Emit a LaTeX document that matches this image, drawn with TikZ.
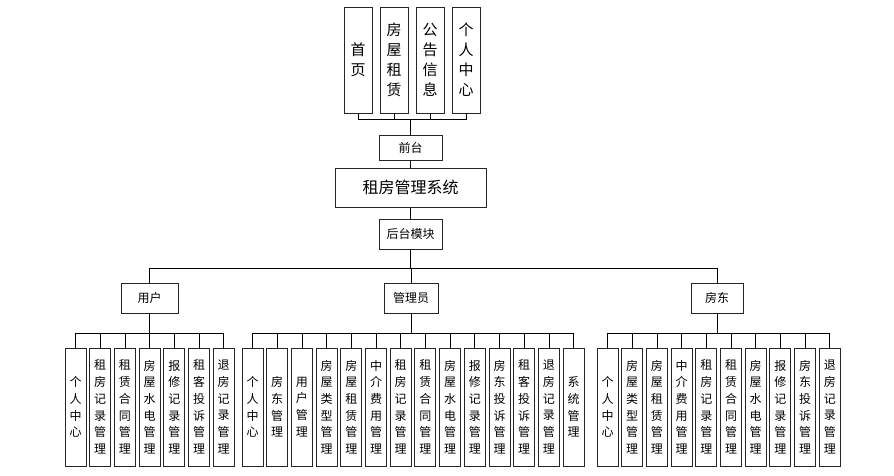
\documentclass[tikz,border=0pt]{standalone}
\usepackage{fontspec}
\setmainfont{Noto Sans CJK SC}
\usetikzlibrary{positioning}

\begin{document}
\begin{tikzpicture}[x=1pt, y=-1pt, node distance=2.7pt, line width=0.8pt,
    boxline/.style={draw=black!85, line width=1pt, inner sep=0pt, align=center},
    topbox/.style={boxline, minimum width=28pt, minimum height=106pt,
          font=\fontsize{15}{20}\selectfont},
    midbox/.style={boxline, minimum height=30pt, font=\fontsize{12}{14}\selectfont},
    leaf/.style={boxline, minimum width=21pt, minimum height=118pt,
          font=\fontsize{12}{16.7}\selectfont}]
  \useasboundingbox (0,0) rectangle (894,475);

  % front end
  \node[topbox] (t1) at (358,60) {首\\页};
  \node[topbox, right=7pt of t1] (t2) {房\\屋\\租\\赁};
  \node[topbox, right=7pt of t2] (t3) {公\\告\\信\\息};
  \node[topbox, right=7pt of t3] (t4) {个\\人\\中\\心};
  \node[midbox, minimum width=63pt, minimum height=25pt] (f) at (410.5,147.5) {前台};
  \node[boxline, minimum width=151pt, minimum height=39pt,
        font=\fontsize{16}{20}\selectfont] (m) at (410.5,187.5) {租房管理系统};
  \node[midbox, minimum width=63pt] (h) at (410.5,234) {后台模块};

  % roles
  \node[midbox, minimum width=57pt] (u) at (149.5,298) {用户};
  \node[midbox, minimum width=54pt] (g) at (411,298) {管理员};
  \node[midbox, minimum width=52pt] (d) at (717,298) {房东};

  % user
  \node[leaf] (u1) at (75.5,407) {个\\人\\中\\心};
  \node[leaf, right=of u1] (u2) {租\\房\\记\\录\\管\\理};
  \node[leaf, right=of u2] (u3) {租\\赁\\合\\同\\管\\理};
  \node[leaf, right=of u3] (u4) {房\\屋\\水\\电\\管\\理};
  \node[leaf, right=of u4] (u5) {报\\修\\记\\录\\管\\理};
  \node[leaf, right=of u5] (u6) {租\\客\\投\\诉\\管\\理};
  \node[leaf, right=of u6] (u7) {退\\房\\记\\录\\管\\理};

  % admin
  \node[leaf] (g1) at (252.5,407) {个\\人\\中\\心};
  \node[leaf, right=of g1] (g2) {房\\东\\管\\理};
  \node[leaf, right=of g2] (g3) {用\\户\\管\\理};
  \node[leaf, right=of g3] (g4) {房\\屋\\类\\型\\管\\理};
  \node[leaf, right=of g4] (g5) {房\\屋\\租\\赁\\管\\理};
  \node[leaf, right=of g5] (g6) {中\\介\\费\\用\\管\\理};
  \node[leaf, right=of g6] (g7) {租\\房\\记\\录\\管\\理};
  \node[leaf, right=of g7] (g8) {租\\赁\\合\\同\\管\\理};
  \node[leaf, right=of g8] (g9) {房\\屋\\水\\电\\管\\理};
  \node[leaf, right=of g9] (g10) {报\\修\\记\\录\\管\\理};
  \node[leaf, right=of g10] (g11) {房\\东\\投\\诉\\管\\理};
  \node[leaf, right=of g11] (g12) {租\\客\\投\\诉\\管\\理};
  \node[leaf, right=of g12] (g13) {退\\房\\记\\录\\管\\理};
  \node[leaf, right=of g13] (g14) {系\\统\\管\\理};

  % landlord
  \node[leaf] (d1) at (607.5,407) {个\\人\\中\\心};
  \node[leaf, right=of d1] (d2) {房\\屋\\类\\型\\管\\理};
  \node[leaf, right=of d2] (d3) {房\\屋\\租\\赁\\管\\理};
  \node[leaf, right=of d3] (d4) {中\\介\\费\\用\\管\\理};
  \node[leaf, right=of d4] (d5) {租\\房\\记\\录\\管\\理};
  \node[leaf, right=of d5] (d6) {租\\赁\\合\\同\\管\\理};
  \node[leaf, right=of d6] (d7) {房\\屋\\水\\电\\管\\理};
  \node[leaf, right=of d7] (d8) {报\\修\\记\\录\\管\\理};
  \node[leaf, right=of d8] (d9) {房\\东\\投\\诉\\管\\理};
  \node[leaf, right=of d9] (d10) {退\\房\\记\\录\\管\\理};

  % connectors
  \coordinate (tb) at ([yshift=15pt]f.north);
  \coordinate (hb) at ([yshift=-19pt]h.south);
  \coordinate (ub) at ([yshift=-20pt]u.south);
  \coordinate (gb) at ([yshift=-20pt]g.south);
  \coordinate (db) at ([yshift=-20pt]d.south);
  \draw (t1) |- (tb) (t2) |- (tb) (t3) |- (tb) (t4) |- (tb) (tb) -- (f);
  \draw (f) -- (m) (m) -- (h) (h) -- (hb);
  \draw (hb) -| (u) (hb) -| (g) (hb) -| (d);
  \draw (u) -- (ub) (ub) -| (u1) (ub) -| (u2) (ub) -| (u3) (ub) -| (u4)
        (ub) -| (u5) (ub) -| (u6) (ub) -| (u7);
  \draw (g) -- (gb) (gb) -| (g1) (gb) -| (g2) (gb) -| (g3) (gb) -| (g4)
        (gb) -| (g5) (gb) -| (g6) (gb) -| (g7) (gb) -| (g8) (gb) -| (g9)
        (gb) -| (g10) (gb) -| (g11) (gb) -| (g12) (gb) -| (g13) (gb) -| (g14);
  \draw (d) -- (db) (db) -| (d1) (db) -| (d2) (db) -| (d3) (db) -| (d4)
        (db) -| (d5) (db) -| (d6) (db) -| (d7) (db) -| (d8) (db) -| (d9)
        (db) -| (d10);
\end{tikzpicture}
\end{document}
